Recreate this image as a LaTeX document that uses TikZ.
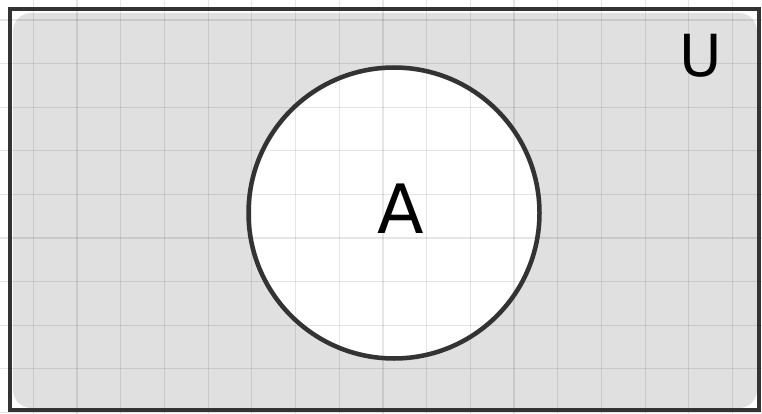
\documentclass[tikz,border=0pt]{standalone}
\usepackage{fontspec}
\newfontfamily\handfont{DejaVu Sans}
\usetikzlibrary{positioning}
\definecolor{ink}{HTML}{333333}
\definecolor{setgrey}{HTML}{E0E0E0}
\tikzset{gridline/.style={draw=black,opacity=0.1,line width=1.2pt}, frame/.style={draw=ink,line width=4pt,minimum width=749pt,minimum height=401pt,inner sep=0pt}, setring/.style={circle,draw=ink,line width=4.5pt,minimum size=291pt,inner sep=0pt}, hand/.style={font=\handfont,inner sep=0pt}}

\begin{document}
\begin{tikzpicture}[x=1pt,y=-1pt]
\useasboundingbox (0,0) rectangle (762,414);
\fill[fill=setgrey,rounded corners=18pt] (13,13) rectangle (757,408);
\fill[white] (394,213) circle (143);
\foreach \gx in {0,...,16} \draw[gridline] ({33.3+43.7*\gx},0) -- ++(0,414);
\foreach \gy in {0,...,9} \draw[gridline] (0,{20+43.6*\gy}) -- ++(762,0);
\node[frame] (univ) at (384.5,209.5) {};
\node[setring] (setA) at (394,213) {};
\node[hand,font=\handfont\fontsize{68}{68}\selectfont] (lblA) at (401,209) {A};
\node[hand,font=\handfont\fontsize{58}{58}\selectfont] (lblU) at (701,56) {U};
\end{tikzpicture}
\end{document}
